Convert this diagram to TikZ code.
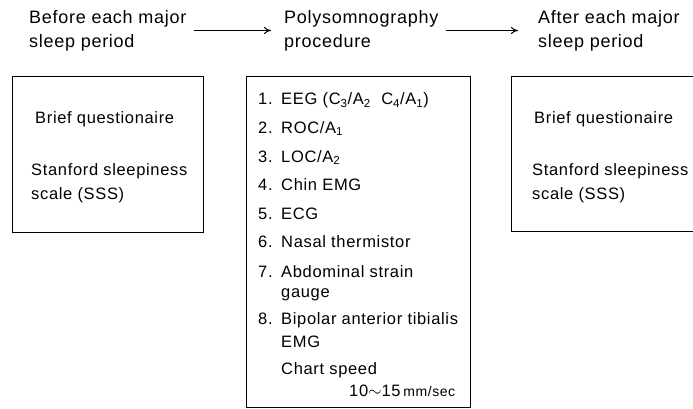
\documentclass[tikz,border=0pt]{standalone}
\usepackage{fontspec}
\setmainfont{Liberation Sans}[LetterSpace=4]
\usetikzlibrary{arrows.meta,positioning}

\tikzset{
  head/.style={anchor=west, inner sep=0pt, align=left, font=\fontsize{18}{24}\selectfont},
  txt/.style={anchor=base west, inner sep=0pt, font=\fontsize{16.5}{20}\selectfont},
  frame/.style={draw, line width=1pt, anchor=north west, inner sep=0pt},
  flow/.style={-{To[length=7pt,width=7pt]}, line width=1pt}
}
\newcommand{\nr}[1]{\makebox[23pt][l]{#1}}

\begin{document}
\begin{tikzpicture}[x=1pt,y=-1pt]
\useasboundingbox (0,0) rectangle (693,409);
\clip (0,0) rectangle (693,409);

% headings
\node[head] (before) at (29,30.5) {Before each major\\sleep period};
\node[head] (poly) at (284,30.5) {Polysomnography\\procedure};
\node[head] (after) at (538,30.5) {After each major\\sleep period};

\draw[flow, shorten <=7pt, shorten >=13pt] (before) -- (poly);
\draw[flow, shorten <=7pt, shorten >=20pt] (poly) -- (after);

% boxes
\node[frame, minimum width=191pt, minimum height=156pt] (prebox) at (12,76) {};
\node[frame, minimum width=224pt, minimum height=331pt] (polybox) at (246,76) {};
\node[frame, minimum width=200pt, minimum height=155pt] (postbox) at (511,76) {};

% before
\node[txt] (prebrief) at (35,124) {Brief questionaire};
\node[txt] (presss) at (31,175) {Stanford sleepiness};
\node[txt] (presss2) at (31,199) {scale (SSS)};

% polysomnography
\node[txt] (eeg) at (258,105) {\nr{1.}EEG (C\textsubscript{3}/A\textsubscript{2}\ \ C\textsubscript{4}/A\textsubscript{1})};
\node[txt] (roc) at (258,133) {\nr{2.}ROC/A\textsubscript{1}};
\node[txt] (loc) at (258,162) {\nr{3.}LOC/A\textsubscript{2}};
\node[txt] (chin) at (258,190) {\nr{4.}Chin EMG};
\node[txt] (ecg) at (258,219) {\nr{5.}ECG};
\node[txt] (nasal) at (258,247) {\nr{6.}Nasal thermistor};
\node[txt] (abd) at (258,277) {\nr{7.}Abdominal strain};
\node[txt] (abd2) at (281,297) {gauge};
\node[txt] (tib) at (258,324) {\nr{8.}Bipolar anterior tibialis};
\node[txt] (tib2) at (281,347) {EMG};
\node[txt] (chart) at (281,374) {Chart speed};
\node[txt] (speed) at (349,396) {10$\sim$15\,{\fontsize{14}{16}\selectfont mm/sec}};

% after
\node[txt] (postbrief) at (534,124) {Brief questionaire};
\node[txt] (postsss) at (532,175) {Stanford sleepiness};
\node[txt] (postsss2) at (532,199) {scale (SSS)};
\end{tikzpicture}
\end{document}
